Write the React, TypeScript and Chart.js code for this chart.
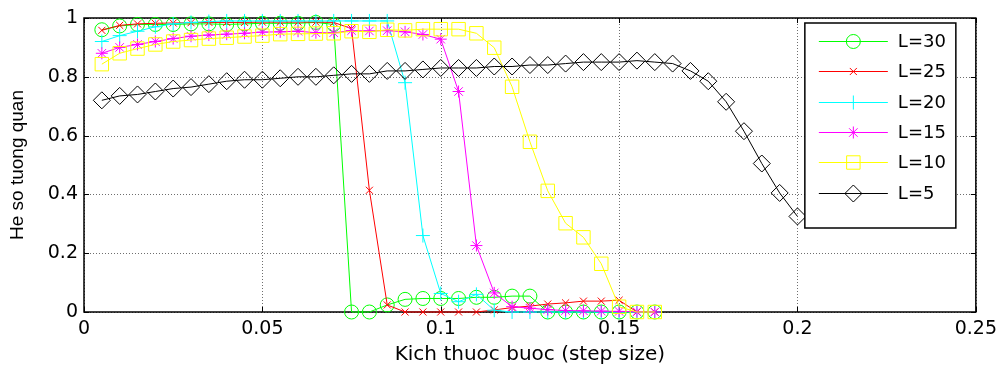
import React, { useEffect, useRef } from 'react';
import { Chart, registerables } from 'chart.js';

Chart.register(...registerables);

const stepSizes = [
  0.005, 0.01, 0.015, 0.02, 0.025, 0.03, 0.035, 0.04, 0.045, 0.05,
  0.055, 0.06, 0.065, 0.07, 0.075, 0.08, 0.085, 0.09, 0.095, 0.1,
  0.105, 0.11, 0.115, 0.12, 0.125, 0.13, 0.135, 0.14, 0.145, 0.15,
  0.155, 0.16, 0.165, 0.17, 0.175, 0.18, 0.185, 0.19, 0.195, 0.2,
];

const seriesL30 = [
  0.96, 0.973, 0.978, 0.978, 0.978, 0.98, 0.98, 0.978, 0.98, 0.982,
  0.982, 0.982, 0.985, 0.978, 0, 0, 0.024, 0.043, 0.046, 0.046,
  0.046, 0.05, 0.05, 0.054, 0.054, 0, 0, 0, 0, 0, 0, 0,
];
const seriesL25 = [
  0.958, 0.975, 0.98, 0.982, 0.983, 0.984, 0.985, 0.985, 0.985, 0.986,
  0.986, 0.986, 0.986, 0.985, 0.964, 0.414, 0.024, 0, 0, 0,
  0, 0, 0.007, 0.015, 0.02, 0.027, 0.031, 0.037, 0.037, 0.04, 0, 0,
];
const seriesL20 = [
  0.92, 0.94, 0.955, 0.97, 0.98, 0.985, 0.988, 0.99, 0.99, 0.99,
  0.99, 0.99, 0.99, 0.99, 0.99, 0.99, 0.99, 0.78, 0.26, 0.063,
  0.035, 0.06, 0.006, 0, 0, 0, 0, 0, 0, 0, 0, 0,
];
const seriesL15 = [
  0.88, 0.9, 0.91, 0.92, 0.93, 0.938, 0.942, 0.945, 0.948, 0.952,
  0.953, 0.955, 0.95, 0.95, 0.957, 0.956, 0.957, 0.953, 0.944, 0.928,
  0.75, 0.226, 0.065, 0.018, 0.013, 0.008, 0.005, 0.004, 0.003, 0.002, 0.001, 0,
];
const seriesL10 = [
  0.843, 0.88, 0.896, 0.91, 0.92, 0.925, 0.93, 0.933, 0.937, 0.94,
  0.945, 0.946, 0.947, 0.948, 0.955, 0.953, 0.96, 0.958, 0.962, 0.962,
  0.962, 0.948, 0.899, 0.766, 0.579, 0.412, 0.302, 0.254, 0.164, 0.018, 0, 0,
];
const seriesL5 = [
  0.72, 0.735, 0.74, 0.75, 0.76, 0.765, 0.775, 0.785, 0.79, 0.79,
  0.795, 0.8, 0.8, 0.805, 0.81, 0.81, 0.82, 0.82, 0.825, 0.83,
  0.83, 0.83, 0.835, 0.835, 0.84, 0.84, 0.845, 0.85, 0.85, 0.85,
  0.855, 0.85, 0.845, 0.82, 0.785, 0.715, 0.615, 0.505, 0.405, 0.325,
];

const seriesLabels = ['L=30', 'L=25', 'L=20', 'L=15', 'L=10', 'L=5'];
const seriesValues = [seriesL30, seriesL25, seriesL20, seriesL15, seriesL10, seriesL5];
const seriesColors = ['#00ff00', '#ff0000', '#00ffff', '#ff00ff', '#ffff00', '#000000'];
const seriesMarkers = ['circle', 'crossRot', 'cross', 'star', 'rect', 'rectRot'];
const seriesRadius = [7, 5, 7, 6, 9.5, 8.5];

const xTickValues = [0, 0.05, 0.1, 0.15, 0.2, 0.25];
const xTickLabels = ['0', '0.05', '0.1', '0.15', '0.2', '0.25'];
const yTickValues = [0, 0.2, 0.4, 0.6, 0.8, 1];
const yTickLabels = ['0', '0.2', '0.4', '0.6', '0.8', '1'];

const WIDE_FONT = '"DejaVu Sans", Verdana, sans-serif';
const FONT = '"Liberation Sans", Arial, Helvetica, sans-serif';

function drawMarker(ctx: CanvasRenderingContext2D, style: string, x: number, y: number, r: number, color: string) {
  ctx.save();
  ctx.strokeStyle = color;
  ctx.lineWidth = 1;
  ctx.beginPath();
  if (style === 'circle') {
    ctx.arc(x, y, r, 0, Math.PI * 2);
  } else if (style === 'rect') {
    const s = r * Math.SQRT1_2;
    ctx.rect(x - s, y - s, 2 * s, 2 * s);
  } else if (style === 'rectRot') {
    ctx.moveTo(x, y - r);
    ctx.lineTo(x + r, y);
    ctx.lineTo(x, y + r);
    ctx.lineTo(x - r, y);
    ctx.closePath();
  } else if (style === 'cross' || style === 'star') {
    ctx.moveTo(x - r, y);
    ctx.lineTo(x + r, y);
    ctx.moveTo(x, y - r);
    ctx.lineTo(x, y + r);
  }
  if (style === 'crossRot' || style === 'star') {
    const d = r * Math.SQRT1_2;
    ctx.moveTo(x - d, y - d);
    ctx.lineTo(x + d, y + d);
    ctx.moveTo(x - d, y + d);
    ctx.lineTo(x + d, y - d);
  }
  ctx.stroke();
  ctx.restore();
}

const framePlugin = {
  id: 'matlabFrame',
  beforeDatasetsDraw(chart: any) {
    const { ctx, chartArea: a, scales } = chart;
    const xs = scales.x;
    const ys = scales.y;
    ctx.save();
    ctx.lineWidth = 1;
    ctx.strokeStyle = '#6e6e6e';
    ctx.setLineDash([1, 2]);
    xTickValues.forEach((v) => {
      const px = Math.round(xs.getPixelForValue(v)) + 0.5;
      ctx.beginPath();
      ctx.moveTo(px, a.top);
      ctx.lineTo(px, a.bottom);
      ctx.stroke();
    });
    yTickValues.forEach((v) => {
      const py = Math.round(ys.getPixelForValue(v)) + 0.5;
      ctx.beginPath();
      ctx.moveTo(a.left, py);
      ctx.lineTo(a.right, py);
      ctx.stroke();
    });
    ctx.setLineDash([]);
    ctx.strokeStyle = '#000';
    ctx.lineWidth = 1.5;
    ctx.strokeRect(a.left, a.top, a.right - a.left, a.bottom - a.top);
    ctx.lineWidth = 1;
    const tl = 5;
    xTickValues.forEach((v) => {
      const px = Math.round(xs.getPixelForValue(v)) + 0.5;
      ctx.beginPath();
      ctx.moveTo(px, a.bottom);
      ctx.lineTo(px, a.bottom - tl);
      ctx.moveTo(px, a.top);
      ctx.lineTo(px, a.top + tl);
      ctx.stroke();
    });
    yTickValues.forEach((v) => {
      const py = Math.round(ys.getPixelForValue(v)) + 0.5;
      ctx.beginPath();
      ctx.moveTo(a.left, py);
      ctx.lineTo(a.left + tl, py);
      ctx.moveTo(a.right, py);
      ctx.lineTo(a.right - tl, py);
      ctx.stroke();
    });
    ctx.restore();
  },
};

const legendPlugin = {
  id: 'matlabLegend',
  afterDraw(chart: any) {
    const { ctx, chartArea: a } = chart;
    const bx = a.right - 171;
    const by = a.top + 5;
    const bw = 151;
    const bh = 205;
    ctx.save();
    ctx.fillStyle = '#fff';
    ctx.fillRect(bx, by, bw, bh);
    ctx.strokeStyle = '#000';
    ctx.lineWidth = 1.5;
    ctx.strokeRect(bx, by, bw, bh);
    ctx.font = `18px ${WIDE_FONT}`;
    ctx.textBaseline = 'middle';
    ctx.textAlign = 'left';
    chart.data.datasets.forEach((ds: any, i: number) => {
      const yy = Math.round(by + 18 + i * 30.3) + 0.5;
      ctx.strokeStyle = ds.borderColor;
      ctx.lineWidth = 1;
      ctx.beginPath();
      ctx.moveTo(bx + 14, yy);
      ctx.lineTo(bx + 83, yy);
      ctx.stroke();
      drawMarker(ctx, ds.pointStyle, bx + 48.5, yy, ds.pointRadius, ds.borderColor);
      ctx.fillStyle = '#000';
      ctx.fillText(ds.label, bx + 93, yy + 1);
    });
    ctx.restore();
  },
};

export default function App() {
  const canvasRef = useRef<HTMLCanvasElement | null>(null);

  useEffect(() => {
    const canvas = canvasRef.current;
    if (!canvas) return;
    const datasets = seriesValues.map((vals, i) => ({
      label: seriesLabels[i],
      data: vals.map((v, j) => ({ x: stepSizes[j], y: v })),
      borderColor: seriesColors[i],
      backgroundColor: 'rgba(0,0,0,0)',
      borderWidth: 1,
      pointStyle: seriesMarkers[i],
      pointRadius: seriesRadius[i],
      pointBorderWidth: 1,
      pointBackgroundColor: 'rgba(0,0,0,0)',
      pointBorderColor: seriesColors[i],
      tension: 0,
      fill: false,
      clip: false as any,
      order: seriesValues.length - i,
    }));

    const chart = new Chart(canvas, {
      type: 'line',
      data: { datasets },
      options: {
        responsive: false,
        animation: false,
        events: [],
        layout: { padding: { left: 0, right: 25, top: 18, bottom: 0 } },
        plugins: {
          legend: { display: false },
          tooltip: { enabled: false },
          title: { display: false },
        },
        scales: {
          x: {
            type: 'linear',
            min: 0,
            max: 0.25,
            grid: { display: false, drawTicks: false },
            border: { display: false },
            afterFit: (s: any) => {
              s.height = 61;
            },
            afterBuildTicks: (s: any) => {
              s.ticks = xTickValues.map((v) => ({ value: v }));
            },
            ticks: {
              color: '#000',
              font: { family: WIDE_FONT, size: 19 },
              padding: 6,
              maxRotation: 0,
              autoSkip: false,
              callback: (v: any) => {
                const k = xTickValues.findIndex((t) => Math.abs(t - Number(v)) < 1e-9);
                return k >= 0 ? xTickLabels[k] : '';
              },
            },
            title: {
              display: true,
              text: 'Kich thuoc buoc (step size)',
              color: '#000',
              font: { family: WIDE_FONT, size: 20 },
              padding: { top: 0, bottom: 6 },
            },
          },
          y: {
            type: 'linear',
            min: 0,
            max: 1,
            grid: { display: false, drawTicks: false },
            border: { display: false },
            afterFit: (s: any) => {
              s.width = 84;
            },
            afterBuildTicks: (s: any) => {
              s.ticks = yTickValues.map((v) => ({ value: v }));
            },
            ticks: {
              color: '#000',
              font: { family: WIDE_FONT, size: 19 },
              padding: 6,
              autoSkip: false,
              callback: (v: any) => {
                const k = yTickValues.findIndex((t) => Math.abs(t - Number(v)) < 1e-9);
                return k >= 0 ? yTickLabels[k] : '';
              },
            },
            title: {
              display: true,
              text: 'He so tuong quan',
              color: '#000',
              font: { family: FONT, size: 19 },
              padding: { top: 6, bottom: 0 },
            },
          },
        },
      },
      plugins: [framePlugin, legendPlugin],
    });

    return () => {
      chart.destroy();
    };
  }, []);

  return (
    <div style={{ position: 'absolute', left: 0, top: 0, width: 1003, height: 373, background: '#fff' }}>
      <canvas ref={canvasRef} width={1003} height={373} style={{ display: 'block' }} />
    </div>
  );
}
